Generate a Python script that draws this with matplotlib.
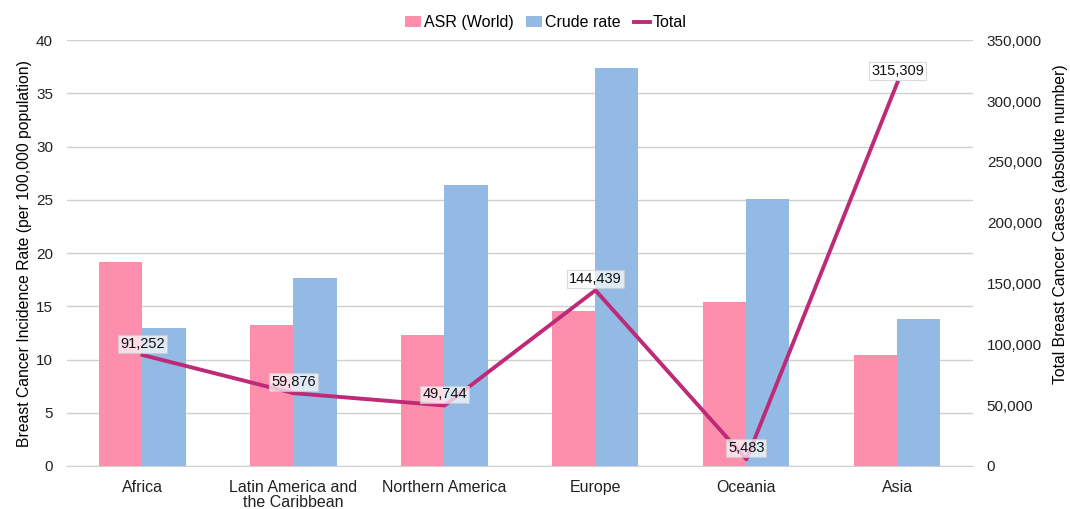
import numpy as np
import matplotlib.pyplot as plt
from matplotlib.ticker import FuncFormatter

plt.rcParams['font.family'] = ['Liberation Sans', 'DejaVu Sans']

regions = ['Africa', 'Latin America and\nthe Caribbean', 'Northern America',
           'Europe', 'Oceania', 'Asia']
asr_world = [19.2, 13.2, 12.3, 14.6, 15.4, 10.4]
crude_rate = [13.0, 17.7, 26.4, 37.4, 25.1, 13.8]
total_cases = [91252, 59876, 49744, 144439, 5483, 315309]

pink = '#fd8fad'
blue = '#93bae4'
magenta = '#bd2a78'

fig = plt.figure(figsize=(10.7, 5.09), dpi=100)
ax = fig.add_axes([0.0626, 0.0845, 0.8467, 0.8365])
x = np.arange(len(regions))
w = 0.285

ax.bar(x - w / 2, asr_world, w, color=pink, label='ASR (World)', zorder=2)
ax.bar(x + w / 2, crude_rate, w, color=blue, label='Crude rate', zorder=2)
ax.set_ylim(0, 40)
ax.set_yticks(range(0, 41, 5))
ax.set_xlim(-0.5, len(regions) - 0.5)
ax.set_xticks(x)
ax.set_xticklabels(regions, linespacing=1.05)
ax.tick_params(axis='both', length=0, labelsize=11, colors='#222222')
ax.tick_params(axis='x', labelsize=11.5, pad=10)
ax.tick_params(axis='y', pad=10)
ax.yaxis.grid(True, color='#d0d0d0', linewidth=1, zorder=0)
ax.set_axisbelow(True)
for s in ['top', 'right', 'left']:
    ax.spines[s].set_visible(False)
ax.spines['bottom'].set_color('#d0d0d0')
ax.set_ylabel('Breast Cancer Incidence Rate (per 100,000 population)', fontsize=11.3, labelpad=3)

ax2 = ax.twinx()
ax2.plot(x, total_cases, color=magenta, linewidth=2.8, label='Total', zorder=3)
ax2.set_ylim(0, 350000)
ax2.set_yticks(range(0, 350001, 50000))
ax2.yaxis.set_major_formatter(FuncFormatter(lambda v, p: f'{int(v):,}'))
ax2.tick_params(axis='y', length=0, labelsize=11, colors='#222222', pad=10)
for s in ['top', 'right', 'left', 'bottom']:
    ax2.spines[s].set_visible(False)
ax2.set_ylabel('Total Breast Cancer Cases (absolute number)', fontsize=11.3, labelpad=8)
ax2.yaxis.label.set_y(0.568)

for xi, v in zip(x, total_cases):
    ax2.annotate(f'{v:,}', (xi, v), xytext=(0, 3), textcoords='offset points',
                 ha='center', va='bottom', fontsize=10.5, color='#111111',
                 bbox=dict(boxstyle='square,pad=0.12', fc='white', ec='#cccccc', lw=0.8, alpha=0.7),
                 zorder=4)

h1, l1 = ax.get_legend_handles_labels()
h2, l2 = ax2.get_legend_handles_labels()
fig.legend(h1 + h2, l1 + l2, loc='upper center', bbox_to_anchor=(0.51, 0.998), ncol=3,
           frameon=False, fontsize=11.5, handlelength=1.0, handletextpad=0.2, columnspacing=0.8)

fig.savefig('out.png', dpi=100)
